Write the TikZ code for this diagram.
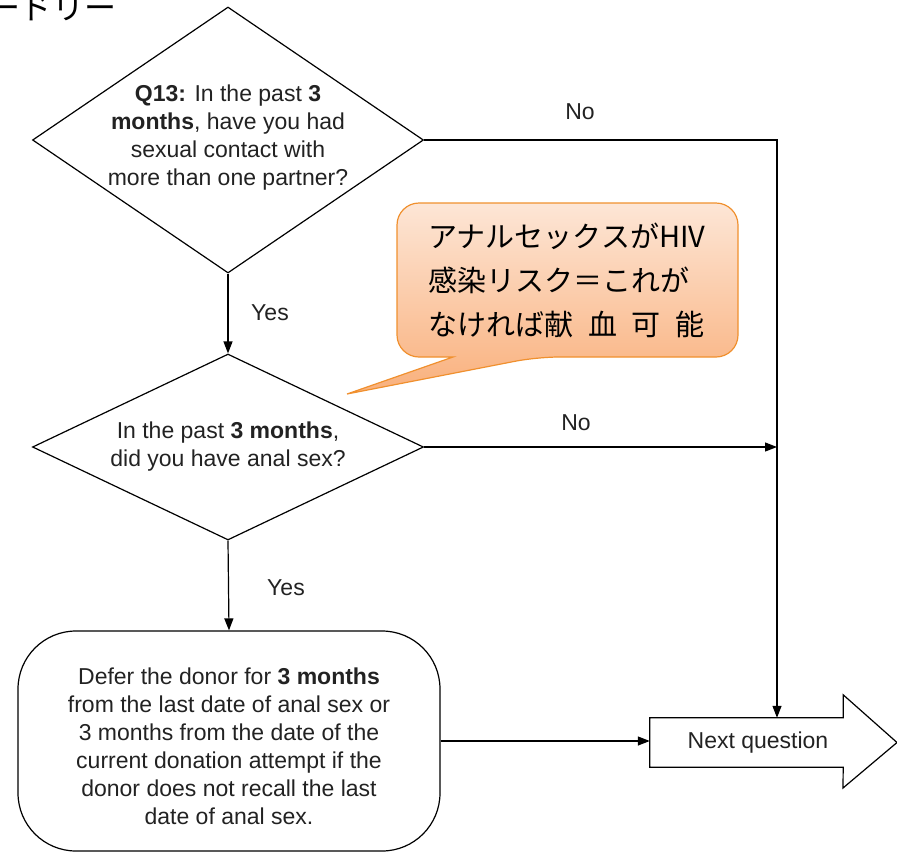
\documentclass[tikz,border=0pt]{standalone}
\usepackage{fontspec}
\setmainfont{Liberation Sans}
\newfontfamily\jpfont{Noto Sans CJK JP}
\usetikzlibrary{shapes.geometric,arrows.meta}
\definecolor{txt}{HTML}{222222}
\definecolor{calloutedge}{HTML}{F0902E}
\definecolor{callouttop}{HTML}{FDE6D6}
\definecolor{calloutbot}{HTML}{F9B07C}
\begin{document}
\begin{tikzpicture}[x=1pt,y=-1pt,
  line/.style={line width=1.2pt, draw=black},
  arr/.style={line, -{Triangle[length=12pt,width=9pt]}},
  decision/.style={line, diamond, inner sep=0pt},
  qtext/.style={align=center, text=txt, font=\fontsize{23}{28}\selectfont},
  lbl/.style={text=txt, font=\fontsize{23}{27}\selectfont},
  jptext/.style={align=left, text=black, font=\jpfont\fontsize{29}{44}\selectfont}]
\useasboundingbox (0,0) rectangle (897,852);

% partial header text (cut by the top edge, as in the reference)
\node[anchor=base west, inner sep=0pt, text=black, font=\jpfont\fontsize{32}{32}\selectfont] (hdr) at (-12,19) {ードリー};

% decisions
\node[decision, minimum width=391pt, minimum height=266pt] (q1) at (228,140) {};
\node[qtext] (q1t) at (228,138) {\textbf{Q13:} In the past \textbf{3}\\\textbf{months}, have you had\\sexual contact with\\more than one partner?};

\node[decision, minimum width=391pt, minimum height=186pt] (q2) at (228,447) {};
\node[qtext] (q2t) at (228,447) {In the past \textbf{3 months},\\did you have anal sex?};

% defer box
\node[line, rounded corners=58pt, minimum width=422pt, minimum height=220pt, inner sep=0pt] (defer) at (229,741) {};
\node[qtext] (defert) at (229,746) {Defer the donor for \textbf{3 months}\\from the last date of anal sex or\\3 months from the date of the\\current donation attempt if the\\donor does not recall the last\\date of anal sex.};

% next question arrow shape
\node[minimum width=193pt, minimum height=49pt, inner sep=0pt] (nq) at (746.5,742.5) {};
\draw[line, line join=miter] (nq.north west) -- (nq.north east) -- ++(0,-23) -- (897,742.5) -- (843,788) -- (nq.south east) -- (nq.south west) -- cycle;
\node[text=txt, font=\fontsize{23}{27}\selectfont] (nqt) at (758,743) {Next question};

% connectors
\coordinate (c1) at (777,140);
\draw[arr] (q1.east) -- (c1) -- (c1 |- nq.north);
\draw[arr] (q2.east) -- (c1 |- q2.east);
\draw[arr] (q1.south) -- (q2.north);
\draw[arr] (q2.south) -- (defer.north);
\draw[arr] (defer.east) -- (defer.east -| nq.west);

% labels
\node[lbl] (no1) at (580,112) {No};
\node[lbl] (no2) at (576,423) {No};
\node[lbl] (yes1) at (270,313) {Yes};
\node[lbl] (yes2) at (286,588) {Yes};

% callout
\path[draw=calloutedge, line width=1.2pt, top color=callouttop, bottom color=calloutbot]
  (397,280) [rounded corners=22pt] -- (397,203) -- (738,203) -- (738,357) -- (537,357)
  [sharp corners] -- (347,394) -- (453,357) [rounded corners=22pt] -- (397,357) -- (397,280) -- cycle;
\node[jptext, anchor=west] (note) at (425,280) {アナルセックスがHIV\\感染リスク＝これが\\なければ\makebox[160pt][s]{献\hfill 血\hfill 可\hfill 能}};
\end{tikzpicture}
\end{document}
